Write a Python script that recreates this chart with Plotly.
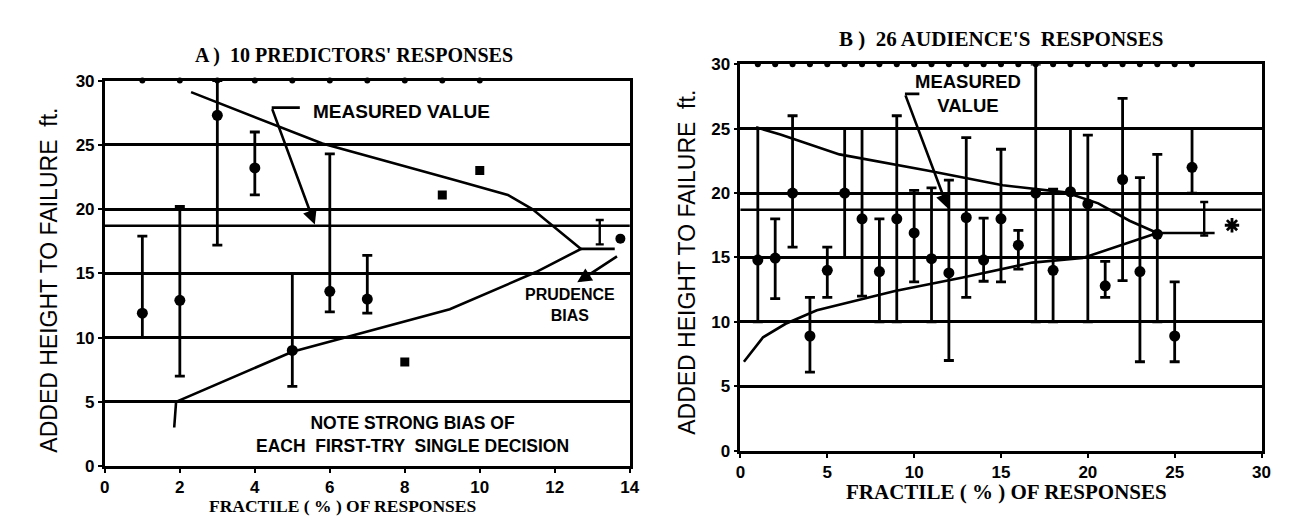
import plotly.graph_objects as go
from plotly.subplots import make_subplots

# ---------------- data : panel A (10 predictors) ----------------
a_x = [1, 2, 3, 4, 5, 6, 7]
a_mid = [11.9, 12.9, 27.3, 23.2, 9.0, 13.6, 13.0]
a_low = [10.0, 7.0, 17.2, 21.1, 6.2, 12.0, 11.9]
a_high = [17.9, 20.2, 30.0, 26.0, 15.0, 24.3, 16.4]
a_single_x = [8, 9, 10]
a_single_y = [8.1, 21.1, 23.0]
a_curve_x = [1.85, 1.9, 5.0, 9.2, 11.5, 12.7, 11.4, 10.75, 9.4, 5.8, 2.3]
a_curve_y = [3.0, 5.0, 8.9, 12.2, 15.1, 16.9, 20.0, 21.1, 22.2, 25.1, 29.1]
a_index = list(range(1, 11))

# ---------------- data : panel B (26 audience members) ----------------
b_x = list(range(1, 27))
b_mid = [14.8, 14.95, 20.0, 8.9, 14.0, 20.0, 18.0, 13.9, 18.0, 16.9, 14.9, 13.8, 18.1,
         14.8, 18.0, 15.95, 20.0, 14.0, 20.1, 19.15, 12.8, 21.05, 13.9, 16.8, 8.9, 22.0]
b_low = [10.0, 11.8, 15.8, 6.1, 11.9, 15.0, 12.0, 10.0, 10.0, 13.1, 10.0, 7.0, 11.9,
         13.15, 13.1, 14.1, 10.0, 10.0, 15.0, 10.0, 11.9, 13.2, 6.9, 10.0, 6.9, 20.0]
b_high = [25.0, 18.0, 26.0, 11.9, 15.8, 25.0, 25.0, 18.0, 26.0, 20.2, 20.4, 21.0, 24.3,
          18.05, 23.4, 17.1, 30.0, 20.3, 25.0, 24.5, 14.7, 27.35, 21.2, 23.0, 13.1, 25.0]
b_curve_x = [0.2, 1.3, 2.6, 4.4, 8.9, 12.8, 16.8, 19.7, 24.0, 22.4, 20.6, 18.7, 15.1, 10.75, 5.7, 2.3, 0.9]
b_curve_y = [6.9, 8.8, 9.85, 10.9, 12.4, 13.45, 14.6, 14.95, 16.9, 17.85, 19.2, 20.05, 20.6, 21.75, 23.0, 24.55, 25.1]
b_index = list(range(1, 27))

measured_value = 18.7
a_peak = 16.9
b_peak = 16.9

a_xticks = [0, 2, 4, 6, 8, 10, 12, 14]
b_xticks = [0, 5, 10, 15, 20, 25, 30]
y_ticks = [0, 5, 10, 15, 20, 25, 30]

SANS = "Liberation Sans"
SERIF = "Liberation Serif"
BLACK = "black"
LW = 2.6

fig = make_subplots(rows=1, cols=2)

def add_panel(col, xs, mid, low, high, curve_x, curve_y, index):
    fig.add_trace(go.Scatter(x=curve_x, y=curve_y, mode="lines",
                             line=dict(color=BLACK, width=LW), showlegend=False,
                             hoverinfo="skip"), row=1, col=col)
    fig.add_trace(go.Scatter(
        x=xs, y=mid, mode="markers",
        marker=dict(color=BLACK, size=11, symbol="circle"),
        error_y=dict(type="data", symmetric=False,
                     array=[h - m for h, m in zip(high, mid)],
                     arrayminus=[m - l for m, l in zip(mid, low)],
                     color=BLACK, thickness=2.8, width=5),
        showlegend=False, cliponaxis=False), row=1, col=col)
    fig.add_trace(go.Scatter(x=index, y=[30] * len(index), mode="markers",
                             marker=dict(color=BLACK, size=6),
                             showlegend=False, cliponaxis=False), row=1, col=col)

add_panel(1, a_x, a_mid, a_low, a_high, a_curve_x, a_curve_y, a_index)
fig.add_trace(go.Scatter(x=a_single_x, y=a_single_y, mode="markers",
                         marker=dict(color=BLACK, size=9, symbol="square"),
                         showlegend=False), row=1, col=1)
add_panel(2, b_x, b_mid, b_low, b_high, b_curve_x, b_curve_y, b_index)

# prudence-bias brackets and stars
fig.add_trace(go.Scatter(x=[12.7, 13.6], y=[a_peak, a_peak], mode="lines",
                         line=dict(color=BLACK, width=LW), showlegend=False), row=1, col=1)
fig.add_trace(go.Scatter(x=[13.2], y=[(17.25 + 19.15) / 2], mode="markers",
                         marker=dict(size=0.1, color=BLACK),
                         error_y=dict(type="constant", value=(19.15 - 17.25) / 2,
                                      color=BLACK, thickness=2.4, width=4),
                         showlegend=False), row=1, col=1)
fig.add_trace(go.Scatter(x=[13.75], y=[17.7], mode="markers",
                         marker=dict(color=BLACK, size=10), showlegend=False,
                         cliponaxis=False), row=1, col=1)

fig.add_trace(go.Scatter(x=[24.0, 27.3], y=[b_peak, b_peak], mode="lines",
                         line=dict(color=BLACK, width=LW), showlegend=False), row=1, col=2)
fig.add_trace(go.Scatter(x=[26.7], y=[(16.7 + 19.3) / 2], mode="markers",
                         marker=dict(size=0.1, color=BLACK),
                         error_y=dict(type="constant", value=(19.3 - 16.7) / 2,
                                      color=BLACK, thickness=2.4, width=4),
                         showlegend=False), row=1, col=2)
fig.add_trace(go.Scatter(x=[28.3], y=[17.5], mode="markers",
                         marker=dict(color=BLACK, size=12, symbol="asterisk",
                                     line=dict(color=BLACK, width=2.8)),
                         showlegend=False), row=1, col=2)

# measured value lines
for ax in ["", "2"]:
    fig.add_shape(type="line", xref=f"x{ax} domain", yref=f"y{ax}",
                  x0=0, x1=1, y0=measured_value, y1=measured_value,
                  line=dict(color=BLACK, width=LW))

axis_common = dict(showline=True, mirror=True, linecolor=BLACK, linewidth=2.8,
                   ticks="outside", ticklen=4, tickwidth=2, tickcolor=BLACK,
                   tickfont=dict(family=SANS, size=17, color=BLACK, weight="bold"),
                   zeroline=False)

fig.update_xaxes(**axis_common, showgrid=False)
fig.update_yaxes(**axis_common, showgrid=True, gridcolor=BLACK, gridwidth=LW,
                 range=[0, 30], tickvals=y_ticks)
fig.update_layout(
    xaxis=dict(domain=[0.0721, 0.4841], range=[0, 14], tickvals=a_xticks),
    yaxis=dict(domain=[1 - 466 / 523, 1 - 66 / 523]),
    xaxis2=dict(domain=[0.571, 0.980], range=[0, 30], tickvals=b_xticks),
    yaxis2=dict(domain=[1 - 450 / 523, 1 - 49 / 523]),
)

ann = []
def txt(text, x, y, size, family=SANS, xref="paper", yref="paper", angle=0, bold=True, align="center"):
    ann.append(dict(text=text, x=x, y=y, xref=xref, yref=yref, showarrow=False,
                    textangle=angle, align=align, xanchor="center", yanchor="middle",
                    font=dict(family=family, size=size, color=BLACK,
                              weight="bold" if bold else "normal")))

# titles
txt("A )  10 PREDICTORS' RESPONSES", 345 / 1289, 1 - 40 / 523, 20, SERIF)
txt("B )  26 AUDIENCE'S  RESPONSES", 1000 / 1289, 1 - 23 / 523, 21, SERIF)
txt("FRACTILE ( % ) OF RESPONSES", 333 / 1289, 1 - 507 / 523, 17.5, SERIF)
txt("FRACTILE ( % ) OF RESPONSES", 1005 / 1289, 1 - 493 / 523, 21, SERIF)
txt("ADDED HEIGHT TO FAILURE  ft.", 37 / 1289, 1 - 273 / 523, 23, SANS, angle=-90, bold=False)
txt("ADDED HEIGHT TO FAILURE  ft.", 682 / 1289, 1 - 255 / 523, 23, SANS, angle=-90, bold=False)

# panel A notes
txt("MEASURED VALUE", 7.9, 27.6, 19, xref="x", yref="y")
txt("PRUDENCE<br>BIAS", 12.4, 12.5, 16, xref="x", yref="y")
txt("NOTE STRONG BIAS OF<br>EACH  FIRST-TRY  SINGLE DECISION", 8.2, 2.45, 17.5, xref="x", yref="y")
# panel B notes
txt("MEASURED<br>VALUE", 13.1, 27.75, 18.5, xref="x2", yref="y2")

arrow = dict(showarrow=True, arrowhead=2, arrowsize=1.1, arrowwidth=2.6,
             arrowcolor=BLACK, text="")
ann.append(dict(arrow, x=5.6, y=18.8, ax=4.45, ay=27.9, xref="x", yref="y",
                axref="x", ayref="y"))
ann.append(dict(arrow, x=12.6, y=14.3, ax=13.7, ay=16.4, xref="x", yref="y",
                axref="x", ayref="y"))
ann.append(dict(arrow, x=11.95, y=18.8, ax=9.47, ay=27.7, xref="x2", yref="y2",
                axref="x2", ayref="y2"))
fig.add_shape(type="line", xref="x", yref="y", x0=4.45, x1=5.2, y0=27.9, y1=27.9,
              line=dict(color=BLACK, width=LW))
fig.add_shape(type="line", xref="x2", yref="y2", x0=9.47, x1=10.3, y0=27.7, y1=27.7,
              line=dict(color=BLACK, width=LW))

fig.update_layout(
    annotations=ann,
    width=1289, height=523,
    margin=dict(l=0, r=0, t=0, b=0),
    paper_bgcolor="white", plot_bgcolor="white",
    showlegend=False,
)

fig.write_html("out.html")
